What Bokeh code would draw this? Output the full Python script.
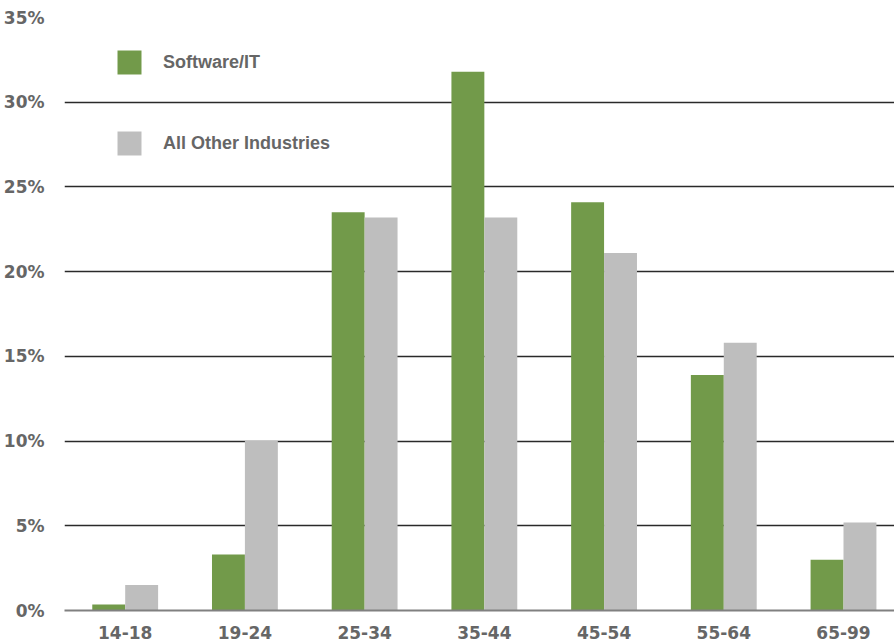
from bokeh.plotting import figure
from bokeh.models import FixedTicker, Legend, LegendItem, ColumnDataSource
from bokeh.embed import file_html
from bokeh.resources import INLINE

age_groups = ["14-18", "19-24", "25-34", "35-44", "45-54", "55-64", "65-99"]
software_it = [0.35, 3.3, 23.5, 31.8, 24.1, 13.9, 3.0]
other_industries = [1.5, 10.0, 23.2, 23.2, 21.1, 15.8, 5.2]
y_ticks = [0, 5, 10, 15, 20, 25, 30, 35]

GREEN = "#729a4a"
GRAY = "#bebebe"
TEXT = "#666666"
FONT = "Liberation Sans"
TICK_FONT = "DejaVu Sans"

idx = list(range(len(age_groups)))
bw = 0.275
src = ColumnDataSource(dict(
    xg=[i - bw / 2 for i in idx],
    xo=[i + bw / 2 for i in idx],
    sw=software_it,
    ot=other_industries,
))

p = figure(width=894, height=641, output_backend="svg", toolbar_location=None,
           x_range=(-0.507, 6.426), y_range=(0, 35),
           min_border_left=62, min_border_right=0, min_border_top=17, min_border_bottom=31)
p.outline_line_color = None
p.background_fill_color = "white"

r1 = p.vbar(x="xg", top="sw", width=bw, source=src, fill_color=GREEN, line_color=None)
r2 = p.vbar(x="xo", top="ot", width=bw, source=src, fill_color=GRAY, line_color=None)

p.xgrid.grid_line_color = None
p.ygrid.ticker = FixedTicker(ticks=y_ticks[1:])
p.ygrid.grid_line_color = "#2a2a2a"
p.ygrid.grid_line_width = 1.5

p.yaxis.ticker = FixedTicker(ticks=y_ticks)
p.yaxis.major_label_overrides = {t: f"{t}%" for t in y_ticks}
p.yaxis.axis_line_color = None
p.yaxis.major_tick_line_color = None
p.yaxis.minor_tick_line_color = None
p.yaxis.major_label_standoff = 14
p.yaxis.major_label_text_font = TICK_FONT
p.yaxis.major_label_text_font_style = "bold"
p.yaxis.major_label_text_font_size = "17px"
p.yaxis.major_label_text_color = TEXT

p.xaxis.ticker = FixedTicker(ticks=idx)
p.xaxis.major_label_overrides = {i: g for i, g in enumerate(age_groups)}
p.xaxis.axis_line_color = "#808080"
p.xaxis.axis_line_width = 2
p.xaxis.major_tick_line_color = None
p.xaxis.minor_tick_line_color = None
p.xaxis.major_label_standoff = 9
p.xaxis.major_label_text_font = TICK_FONT
p.xaxis.major_label_text_font_style = "bold"
p.xaxis.major_label_text_font_size = "17px"
p.xaxis.major_label_text_color = TEXT

legend = Legend(items=[LegendItem(label="Software/IT", renderers=[r1]),
                       LegendItem(label="All Other Industries", renderers=[r2])],
                location=(50, 452), orientation="vertical",
                glyph_width=30, glyph_height=30, spacing=51, label_standoff=19,
                padding=0, margin=0, border_line_color=None, background_fill_alpha=0,
                label_text_font=FONT, label_text_font_style="bold",
                label_text_font_size="18px", label_text_color=TEXT)
p.add_layout(legend, "center")

open("out.html", "w").write(file_html(p, INLINE))
